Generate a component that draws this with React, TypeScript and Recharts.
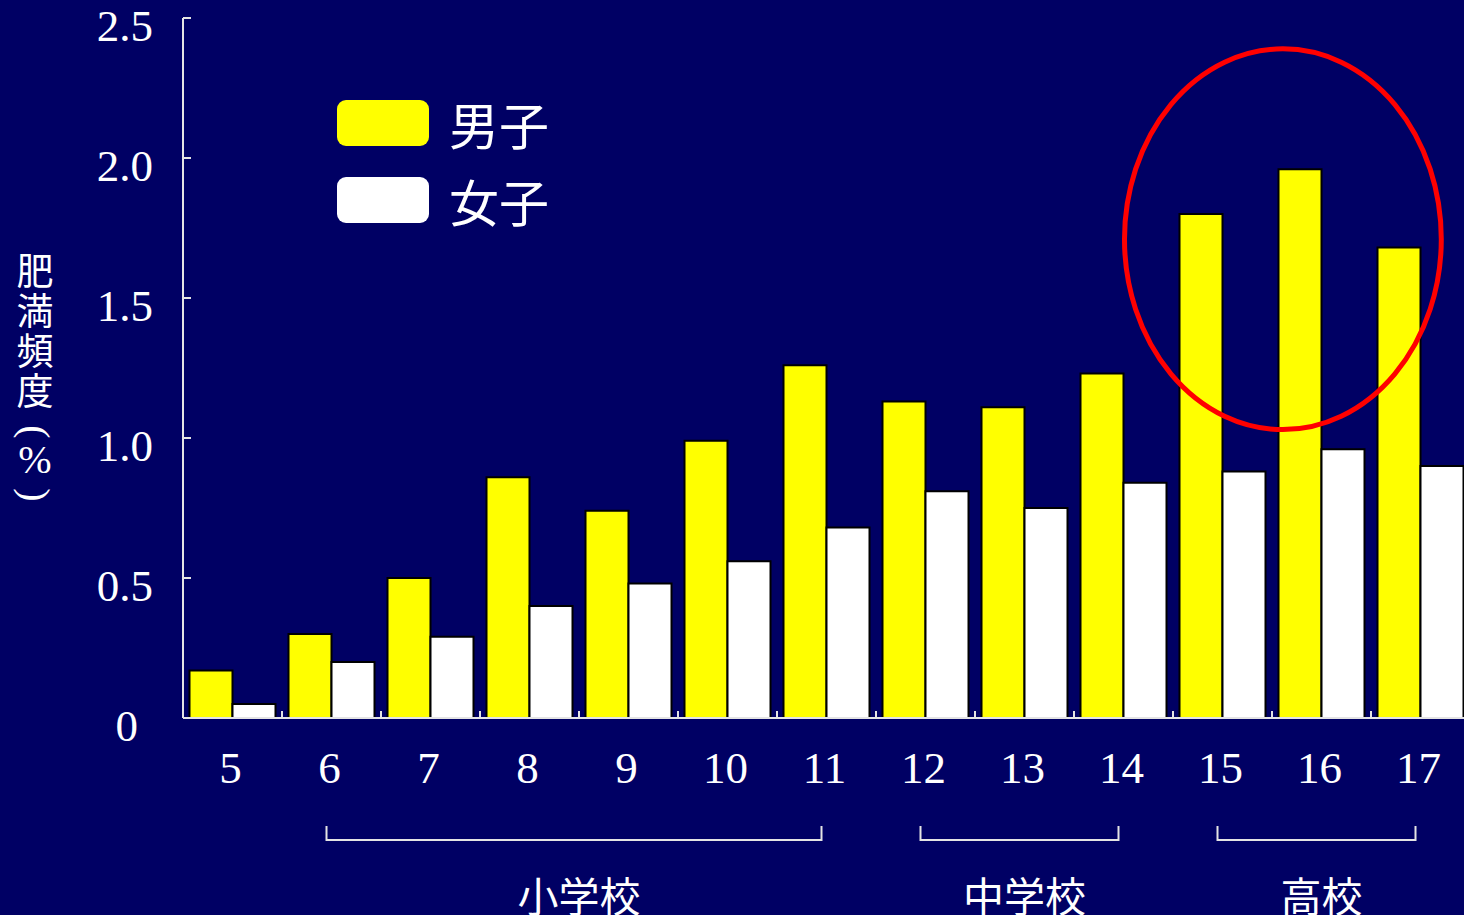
import React from 'react';
import { BarChart, Bar, XAxis, YAxis, Legend, ReferenceArea } from 'recharts';

// ---------- data ----------
const CATEGORIES = ['5', '6', '7', '8', '9', '10', '11', '12', '13', '14', '15', '16', '17'];
const BOYS = [0.17, 0.3, 0.5, 0.86, 0.74, 0.99, 1.26, 1.13, 1.11, 1.23, 1.8, 1.96, 1.68];
const GIRLS = [0.05, 0.2, 0.29, 0.4, 0.48, 0.56, 0.68, 0.81, 0.75, 0.84, 0.88, 0.96, 0.9];
const SERIES_NAMES = ['男子', '女子'];
const Y_TICKS = [0, 0.5, 1.0, 1.5, 2.0, 2.5];
const Y_TICK_LABELS = ['0', '0.5', '1.0', '1.5', '2.0', '2.5'];
const Y_LABEL_CHARS = ['肥', '満', '頻', '度'];
const GROUPS = [
  { label: '小学校', from: '6', to: '11' },
  { label: '中学校', from: '12', to: '14' },
  { label: '高校', from: '15', to: '17' },
];
const HIGHLIGHT = { x1: '15', x2: '16', y1: 1.03, y2: 2.39 };

const data = CATEGORIES.map((c, i) => ({ age: c, boys: BOYS[i], girls: GIRLS[i] }));

// ---------- layout ----------
const CHART_W = 1480;
const CHART_H = 915;
const Y_AXIS_W = 183;
const X_AXIS_H = 197;
const MARGIN = { top: 18, right: 10, bottom: 0, left: 0 };
const PLOT_W = CHART_W - MARGIN.left - MARGIN.right - Y_AXIS_W;
const BAND = PLOT_W / CATEGORIES.length;

const BG = '#000064';
const AXIS_COLOR = '#e4e4e4';
const SERIF = '"Liberation Serif", "Times New Roman", serif';
const CJK = '"Noto Sans CJK JP", "Noto Sans CJK SC", sans-serif';

function YTick(props: any) {
  const { x, y, payload } = props;
  const i = Y_TICKS.indexOf(payload.value);
  const label = i >= 0 ? Y_TICK_LABELS[i] : String(payload.value);
  const isZero = payload.value === 0;
  return (
    <g>
      {!isZero && (
        <line x1={Y_AXIS_W} x2={Y_AXIS_W + 8} y1={y} y2={y} stroke={AXIS_COLOR} strokeWidth={2} />
      )}
      <text
        x={isZero ? x - 15 : x}
        y={y + 23}
        textAnchor="end"
        fill="#ffffff"
        fontFamily={SERIF}
        fontSize={45}
      >
        {label}
      </text>
    </g>
  );
}

function XTick(props: any) {
  const { x, y, payload } = props;
  const value = payload.value;
  const idx = CATEGORIES.indexOf(value);
  const group = GROUPS.find((g) => g.from === value);
  let bracket = null;
  if (group) {
    const span = (CATEGORIES.indexOf(group.to) - idx) * BAND;
    const top = y + 108;
    const bot = y + 122;
    bracket = (
      <g>
        <path
          d={`M${x - 5},${top} L${x - 5},${bot} L${x - 5 + span},${bot} L${x - 5 + span},${top}`}
          fill="none"
          stroke={AXIS_COLOR}
          strokeWidth={2}
        />
        <text
          x={x + span / 2}
          y={y + 194}
          textAnchor="middle"
          fill="#ffffff"
          fontFamily={CJK}
          fontSize={41}
        >
          {group.label}
        </text>
      </g>
    );
  }
  return (
    <g>
      {idx < CATEGORIES.length - 1 && (
        <line x1={x + BAND / 2} x2={x + BAND / 2} y1={y} y2={y - 7} stroke={AXIS_COLOR} strokeWidth={2} />
      )}
      <text x={x - 2} y={y + 65} textAnchor="middle" fill="#ffffff" fontFamily={SERIF} fontSize={45}>
        {value}
      </text>
      {bracket}
    </g>
  );
}

function YLabel(props: any) {
  const vb = props.viewBox || { x: 0, y: MARGIN.top, width: Y_AXIS_W, height: 700 };
  const cx = vb.x + 35;
  const cy = vb.y + vb.height / 2;
  const start = cy - 99;
  const parenOpenY = cy + 64;
  const pctY = cy + 91;
  const parenCloseY = cy + 127;
  return (
    <g fill="#ffffff">
      {Y_LABEL_CHARS.map((ch, i) => (
        <text
          key={ch}
          x={cx}
          y={start + i * 40}
          textAnchor="middle"
          dominantBaseline="central"
          fontFamily={CJK}
          fontSize={37}
          fill="#ffffff"
        >
          {ch}
        </text>
      ))}
      <text
        x={cx}
        y={parenOpenY}
        transform={`rotate(90 ${cx} ${parenOpenY})`}
        textAnchor="middle"
        dominantBaseline="central"
        fontFamily={SERIF}
        fontSize={40}
        fill="#ffffff"
      >
        (
      </text>
      <text
        x={cx}
        y={pctY}
        textAnchor="middle"
        dominantBaseline="central"
        fontFamily={SERIF}
        fontSize={40}
        fill="#ffffff"
      >
        %
      </text>
      <text
        x={cx}
        y={parenCloseY}
        transform={`rotate(90 ${cx} ${parenCloseY})`}
        textAnchor="middle"
        dominantBaseline="central"
        fontFamily={SERIF}
        fontSize={40}
        fill="#ffffff"
      >
        )
      </text>
    </g>
  );
}

function LegendContent(props: any) {
  const payload = [...(props.payload || [])].sort(
    (a: any, b: any) => SERIES_NAMES.indexOf(a.value) - SERIES_NAMES.indexOf(b.value)
  );
  return (
    <div style={{ display: 'flex', flexDirection: 'column' }}>
      {payload.map((entry: any, i: number) => (
        <div
          key={i}
          style={{ display: 'flex', alignItems: 'center', height: 46, marginBottom: i === 0 ? 31 : 0 }}
        >
          <div
            style={{
              width: 92,
              height: 46,
              borderRadius: 9,
              background: entry.color,
            }}
          />
          <span
            style={{
              marginLeft: 20,
              color: '#ffffff',
              fontFamily: CJK,
              fontSize: 50,
              lineHeight: '46px',
              whiteSpace: 'nowrap',
            }}
          >
            {entry.value}
          </span>
        </div>
      ))}
    </div>
  );
}

function Ellipse(props: any) {
  const { x, y, width, height } = props;
  if (x == null || y == null) return null;
  const cx = x + width / 2 + width * 0.055;
  const cy = y + height / 2;
  return (
    <ellipse cx={cx} cy={cy} rx={width * 0.8} ry={height / 2} fill="none" stroke="#ff0000" strokeWidth={5} />
  );
}

export default function App() {
  return (
    <div
      style={{
        position: 'absolute',
        left: 0,
        top: 0,
        width: 1464,
        height: 915,
        overflow: 'hidden',
        background: BG,
      }}
    >
      <BarChart
        width={CHART_W}
        height={CHART_H}
        data={data}
        margin={MARGIN}
        barCategoryGap={6.5}
        barGap={0}
        style={{ overflow: 'visible' }}
      >
        <XAxis
          dataKey="age"
          type="category"
          height={X_AXIS_H}
          axisLine={{ stroke: AXIS_COLOR, strokeWidth: 2 }}
          tickLine={false}
          tickSize={0}
          tickMargin={0}
          interval={0}
          tick={<XTick />}
        />
        <YAxis
          type="number"
          width={Y_AXIS_W}
          domain={[0, 2.5]}
          ticks={Y_TICKS}
          interval={0}
          axisLine={{ stroke: AXIS_COLOR, strokeWidth: 2 }}
          tickLine={false}
          tickSize={0}
          tickMargin={30}
          tick={<YTick />}
          label={{ content: (p: any) => <YLabel {...p} /> }}
        />
        <Legend
          layout="vertical"
          align="center"
          verticalAlign="middle"
          content={<LegendContent />}
          wrapperStyle={{ left: 337, top: 100, width: 300, height: 170 }}
        />
        <Bar
          dataKey="boys"
          name={SERIES_NAMES[0]}
          fill="#ffff00"
          stroke="#000000"
          strokeWidth={2}
          isAnimationActive={false}
        />
        <Bar
          dataKey="girls"
          name={SERIES_NAMES[1]}
          fill="#ffffff"
          stroke="#000000"
          strokeWidth={2}
          isAnimationActive={false}
        />
        <ReferenceArea
          x1={HIGHLIGHT.x1}
          x2={HIGHLIGHT.x2}
          y1={HIGHLIGHT.y1}
          y2={HIGHLIGHT.y2}
          ifOverflow="visible"
          zIndex={1000}
          shape={<Ellipse />}
        />
      </BarChart>
    </div>
  );
}
